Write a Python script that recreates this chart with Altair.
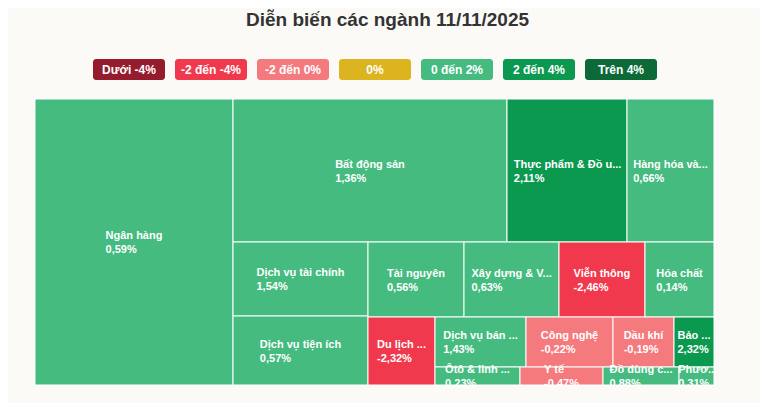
import unicodedata
import altair as alt
import pandas as pd

# ---------------- data ----------------
names = ["Ngân hàng", "Bất động sản", "Thực phẩm & Đồ u...", "Hàng hóa và...",
         "Dịch vụ tài chính", "Dịch vụ tiện ích", "Tài nguyên", "Xây dựng & V...",
         "Viễn thông", "Hóa chất", "Du lịch ...", "Dịch vụ bán ...", "Công nghệ",
         "Dầu khí", "Bảo ...", "Ôtô & linh ...", "Y tế", "Đồ dùng c...", "Phươ..."]
changes = [0.59, 1.36, 2.11, 0.66, 1.54, 0.57, 0.56, 0.63, -2.46, 0.14,
           -2.32, 1.43, -0.22, -0.19, 2.32, 0.23, -0.47, 0.88, 0.31]
weights = [56628, 39182, 17160, 12441, 9990, 9315, 7200, 7125, 6450, 5175,
           4556, 4550, 4350, 3050, 2000, 1530, 1494, 1368, 630]

legend_labels = ["Dưới -4%", "-2 đến -4%", "-2 đến 0%", "0%", "0 đến 2%", "2 đến 4%", "Trên 4%"]
legend_colors = ["#951c2d", "#f0394d", "#f47a7e", "#dbb41f", "#45bb80", "#0a994f", "#0b6a37"]

W, H = 679, 286


def bucket(v):
    if v < -4:
        return legend_labels[0]
    if v < -2:
        return legend_labels[1]
    if v < 0:
        return legend_labels[2]
    if v == 0:
        return legend_labels[3]
    if v < 2:
        return legend_labels[4]
    if v < 4:
        return legend_labels[5]
    return legend_labels[6]


# ------------- alternating squarified treemap layout -------------
def treemap(ws, x0, y0, x1, y1):
    n = len(ws)
    out = [None] * n
    i = 0
    vertical = True
    while i < n:
        w, h = x1 - x0, y1 - y0
        scale = w * h / sum(ws[i:])
        side = h if vertical else w

        def worst(items):
            s = sum(items) * scale
            t = s / side
            r = 0
            for a in items:
                l = a * scale / t
                r = max(r, l / t, t / l)
            return r

        j = i + 1
        best = worst(ws[i:j])
        while j < n:
            r = worst(ws[i:j + 1])
            if r > best:
                break
            best = r
            j += 1
        items = ws[i:j]
        t = sum(items) * scale / side
        pos = y0 if vertical else x0
        for k, a in enumerate(items):
            l = a * scale / t
            if vertical:
                out[i + k] = (x0, pos, x0 + t, pos + l)
            else:
                out[i + k] = (pos, y0, pos + l, y0 + t)
            pos += l
        if vertical:
            x0 += t
        else:
            y0 += t
        vertical = not vertical
        i = j
    return out


# approximate Arial Bold advance widths (per 1000 em) for centring label blocks
CW = dict(zip("abcdefghijklmnopqrstuvwxyz",
              [556, 611, 556, 611, 556, 333, 611, 611, 278, 278, 556, 278, 889,
               611, 611, 611, 611, 389, 556, 333, 611, 556, 778, 556, 556, 500]))
CW.update(dict(zip("ABCDEFGHIJKLMNOPQRSTUVWXYZ",
                   [722, 722, 722, 722, 667, 611, 778, 722, 278, 556, 722, 611, 833,
                    722, 778, 667, 778, 722, 667, 611, 722, 667, 944, 667, 667, 611])))
CW.update({" ": 278, ",": 278, ".": 278, "%": 889, "-": 333, "&": 722, "đ": 611, "Đ": 722})
for d in "0123456789":
    CW[d] = 556


def text_w(s, size):
    return sum(CW.get(unicodedata.normalize("NFD", ch)[0], 556) for ch in s) * size / 1000


rects = treemap(weights, 0, 0, W, H)
FS = 11
rows = []
for nm, v, (a, b, c, d) in zip(names, changes, rects):
    lab = f"{v:.2f}".replace(".", ",") + "%"
    cx, cy = (a + c) / 2, (b + d) / 2
    bw = max(text_w(nm, FS), text_w(lab, FS))
    rows.append(dict(name=nm, value=lab, cat=bucket(v), x0=a, x1=c, y0=b, y1=d,
                     lx=cx - bw / 2, ly1=cy - 6, ly2=cy + 8))
df = pd.DataFrame(rows)
leg = pd.DataFrame({"label": legend_labels})

FONT = "Liberation Sans"
color = alt.Color("cat:N", scale=alt.Scale(domain=legend_labels, range=legend_colors), legend=None)
xs = alt.Scale(domain=[0, W], nice=False, zero=False)
ys = alt.Scale(domain=[0, H], nice=False, zero=False, reverse=True)

base = alt.Chart(df)
cells = base.mark_rect(stroke="white", strokeWidth=1).encode(
    x=alt.X("x0:Q", scale=xs, axis=None),
    x2="x1:Q",
    y=alt.Y("y0:Q", scale=ys, axis=None),
    y2="y1:Q",
    color=color,
)
name_txt = base.mark_text(align="left", baseline="middle", font=FONT, fontSize=FS,
                          fontWeight="bold", color="white").encode(
    x=alt.X("lx:Q", scale=xs, axis=None),
    y=alt.Y("ly1:Q", scale=ys, axis=None),
    text="name:N",
)
val_txt = base.mark_text(align="left", baseline="middle", font=FONT, fontSize=FS,
                         fontWeight="bold", color="white").encode(
    x=alt.X("lx:Q", scale=xs, axis=None),
    y=alt.Y("ly2:Q", scale=ys, axis=None),
    text="value:N",
)
tree = alt.layer(cells, name_txt, val_txt)

lscale = alt.Scale(domain=legend_labels, range=[53, 627], paddingInner=10 / 82, paddingOuter=5 / 82)
leg_box = alt.Chart(leg).mark_rect(cornerRadius=3).encode(
    x=alt.X("label:N", scale=lscale, axis=None, sort=None),
    y=alt.value(-40),
    y2=alt.value(-19),
    color=alt.Color("label:N", scale=alt.Scale(domain=legend_labels, range=legend_colors), legend=None),
)
leg_txt = alt.Chart(leg).mark_text(font=FONT, fontSize=12, fontWeight="bold", color="white",
                                   baseline="middle").encode(
    x=alt.X("label:N", scale=lscale, axis=None, sort=None),
    y=alt.value(-29.5),
    text="label:N",
)
legend = alt.layer(leg_box, leg_txt)

chart = alt.layer(tree, legend).resolve_scale(x="independent", y="independent").properties(
    width=W, height=H,
    padding={"left": 27, "top": 91, "right": 46, "bottom": 18},
    autosize=alt.AutoSizeParams(type="none"),
    background="#fbfaf7",
    title=alt.TitleParams("Diễn biến các ngành 11/11/2025", font=FONT, fontSize=19,
                          fontWeight="bold", color="#333333", anchor="middle", dx=13, offset=29),
).configure_view(stroke=None)

chart.save("out.html", embed_options={"renderer": "svg", "actions": False})
